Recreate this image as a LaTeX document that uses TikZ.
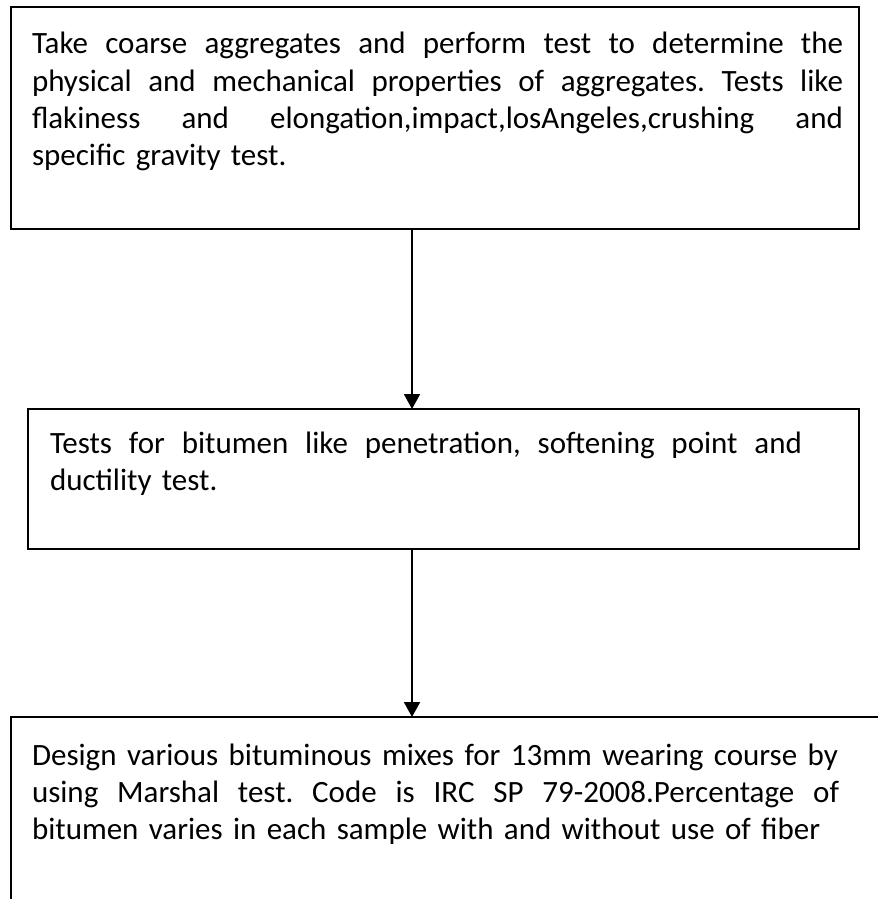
\documentclass[tikz,border=0pt]{standalone}
\usepackage{fontspec}
\setmainfont{Carlito}
\usetikzlibrary{arrows.meta}
\frenchspacing
\newcommand{\jline}[2]{\makebox[#1][s]{\frenchspacing\spaceskip=0pt\xspaceskip=0pt #2}}
\begin{document}
\begin{tikzpicture}[x=1pt,y=-1pt,
  boxline/.style={line width=2pt},
  flowbox/.style={boxline, inner sep=0pt, outer sep=0pt, anchor=north west},
  flowtext/.style={anchor=base west, inner sep=0pt, outer sep=0pt, align=left,
    font=\fontsize{31}{37.2}\selectfont},
  flowarrow/.style={line width=2pt, -{Triangle[width=16pt,length=15pt]}}
]
\useasboundingbox (0,0) rectangle (878,899);
% boxes
\node[flowbox, draw, minimum width=848pt, minimum height=222pt] (b1) at (11,7) {};
\node[flowbox, draw, minimum width=831pt, minimum height=140pt] (b2) at (28,409) {};
\node[flowbox, minimum width=867pt, minimum height=182pt] (b3) at (11,717) {};
\draw[boxline] (b3.north east) -- (b3.north west) -- (b3.south west);
% texts
\node[flowtext, text width=811pt] (t1) at (32,54) {%
\jline{811pt}{Take coarse aggregates and perform test to determine the}\\
\jline{811pt}{physical and mechanical properties of aggregates. Tests like}\\
\jline{811pt}{flakiness and elongation,impact,losAngeles,crushing and}\\
specific gravity test.};
\node[flowtext, text width=752pt] (t2) at (50,453) {%
\jline{752pt}{Tests for bitumen like penetration, softening point and}\\
ductility test.};
\node[flowtext, text width=808pt] (t3) at (32,765.5) {%
\jline{806pt}{Design various bituminous mixes for 13mm wearing course by}\\
\jline{807pt}{using Marshal test. Code is IRC SP 79-2008.Percentage of}\\
bitumen varies in each sample with and without use of fiber};
% connectors
\coordinate (ax) at (412,0);
\draw[flowarrow] (b1.south -| ax) -- (b2.north -| ax);
\draw[flowarrow] (b2.south -| ax) -- (b3.north -| ax);
\end{tikzpicture}
\end{document}
